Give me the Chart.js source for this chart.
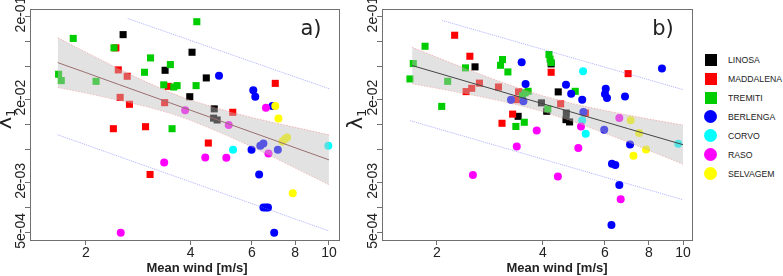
<!DOCTYPE html>
<html lang="en">
<head>
<meta charset="UTF-8">
<title>Lambda 1 vs mean wind</title>
<style>
    body {
        margin: 0;
        background: #fff;
        font-family: 'Liberation Sans', Arial, sans-serif;
    }
    .fig {
        position: relative;
        width: 783px;
        height: 276px;
        overflow: hidden;
    }
    #chartA { position: absolute; left: 0; top: 0; }
    #chartB { position: absolute; left: 345px; top: 0; }
    .legend {
        position: absolute;
        left: 704px;
        top: 50px;
        font-size: 8.7px;
        color: #222;
    }
    .legend .item {
        height: 19px;
        display: flex;
        align-items: center;
        white-space: nowrap;
    }
    .legend .mark {
        width: 13px;
        height: 13px;
        margin-right: 11px;
    }
    .legend .mark.sq {
        width: 12px;
        height: 12px;
        margin: 0 11px 0 1px;
    }
    .legend .mark.dot { border-radius: 50%; }
</style>
</head>
<body>
<div class="fig">
    <canvas id="chartA" width="345" height="276"></canvas>
    <canvas id="chartB" width="355" height="276"></canvas>
    <div class="legend" id="legend"></div>
</div>

<script src="https://cdn.jsdelivr.net/npm/chart.js"></script>
<script>
// ---- species / legend ----
const SPECIES = ['LINOSA', 'MADDALENA', 'TREMITI', 'BERLENGA', 'CORVO', 'RASO', 'SELVAGEM'];
const COLORS  = ['#000000', '#ff0000', '#00cd00', '#0000ff', '#00ffff', '#ff00ff', '#ffff00'];
const SHAPES  = ['rect', 'rect', 'rect', 'circle', 'circle', 'circle', 'circle'];

// ---- axes ----
const X_TICKS = [2, 4, 6, 8, 10];
const Y_TICKS = [0.2, 0.1, 0.05, 0.02, 0.01, 0.005, 0.002, 0.001, 0.0005];
const Y_LABEL_VALUES = [0.2, 0.02, 0.002, 0.0005];
const Y_LABELS = ['2e-01', '2e-02', '2e-03', '5e-04'];

// ---- panel a) : mean wind [m/s] vs lambda_1 ----
const A_LINOSA_WIND      = [2.56, 4.04, 3.38, 4.44, 3.98, 4.68, 4.66, 4.77];
const A_LINOSA_LAMBDA    = [0.121, 0.0743, 0.0451, 0.0365, 0.0217, 0.0155, 0.0120, 0.0114];
const A_MADDALENA_WIND   = [2.44, 2.48, 2.63, 3.45, 2.51, 2.67, 3.37, 7.01, 5.29, 2.40, 2.97, 4.50, 3.06];
const A_MADDALENA_LAMBDA = [0.0839, 0.0456, 0.0382, 0.0289, 0.0213, 0.0176, 0.0184, 0.0314, 0.0141, 0.00895, 0.00946, 0.00602, 0.00252];
const A_TREMITI_WIND     = [4.17, 1.84, 2.41, 3.07, 3.50, 2.95, 1.67, 1.70, 2.14, 3.35, 3.58, 3.66, 4.15, 3.54];
const A_TREMITI_LAMBDA   = [0.173, 0.109, 0.0839, 0.0635, 0.0528, 0.0427, 0.0404, 0.0339, 0.0332, 0.0301, 0.0284, 0.0295, 0.0295, 0.00895];
const A_BERLENGA_WIND    = [4.83, 6.06, 6.14, 6.88, 5.99, 6.35, 6.48, 7.13, 6.30, 6.48, 6.59, 6.68, 6.96];
const A_BERLENGA_LAMBDA  = [0.0389, 0.0259, 0.0217, 0.0168, 0.0050, 0.00558, 0.00595, 0.0050, 0.00252, 0.00101, 0.00101, 0.00101, 0.000504];
const A_CORVO_WIND       = [5.30, 9.96];
const A_CORVO_LAMBDA     = [0.0050, 0.00558];
const A_RASO_WIND        = [3.86, 6.59, 5.15, 6.70, 4.41, 5.07, 3.36, 2.52];
const A_RASO_LAMBDA      = [0.0149, 0.0160, 0.0099, 0.00451, 0.00403, 0.0040, 0.00351, 0.000504];
const A_SELVAGEM_WIND    = [7.01, 7.16, 7.35, 7.48, 7.58, 7.87];
const A_SELVAGEM_LAMBDA  = [0.0168, 0.0119, 0.0063, 0.00673, 0.00703, 0.0015];

const A_FIT_WIND = [1.66, 2, 2.5, 3, 3.5, 4, 5, 6, 7, 8, 10];
const A_FIT      = [0.0558, 0.0423, 0.0302, 0.0230, 0.01824, 0.01493, 0.01069, 0.00813, 0.00646, 0.00528, 0.00378];
const A_BAND_UP  = [0.1114, 0.0745, 0.0465, 0.0323, 0.0243, 0.0197, 0.0149, 0.0122, 0.0105, 0.0093, 0.00755];
const A_BAND_LO  = [0.0280, 0.0240, 0.0196, 0.0164, 0.0137, 0.0113, 0.00767, 0.00543, 0.00398, 0.00301, 0.0019];
const A_PRED_UP_WIND = [2.64, 10];
const A_PRED_UP      = [0.189, 0.0271];
const A_PRED_LO_WIND = [1.66, 10];
const A_PRED_LO      = [0.00757, 0.000528];

// ---- panel b) ----
const B_LINOSA_WIND      = [2.565, 4.22, 4.42, 3.96, 4.10, 3.40, 4.66, 4.65, 4.76];
const B_LINOSA_LAMBDA    = [0.0496, 0.0538, 0.0248, 0.0183, 0.0145, 0.0126, 0.0138, 0.0115, 0.0108];
const B_MADDALENA_WIND   = [2.245, 2.48, 2.42, 2.51, 2.64, 2.99, 3.41, 3.37, 3.28, 3.06, 4.22, 4.49, 6.98, 5.28];
const B_MADDALENA_LAMBDA = [0.119, 0.0665, 0.0250, 0.0274, 0.0316, 0.0284, 0.0248, 0.020, 0.0134, 0.0104, 0.0427, 0.0178, 0.0411, 0.0138];
const B_TREMITI_WIND     = [1.85, 1.713, 1.676, 2.145, 2.063, 2.41, 3.07, 3.03, 3.18, 4.16, 4.19, 4.22, 3.56, 3.63, 3.50, 4.94, 4.13, 3.35, 3.54];
const B_TREMITI_LAMBDA   = [0.0877, 0.0543, 0.0355, 0.0332, 0.0166, 0.0482, 0.0607, 0.0518, 0.0431, 0.0697, 0.0615, 0.0559, 0.0241, 0.0252, 0.0223, 0.0252, 0.0155, 0.00953, 0.0107];
const B_BERLENGA_WIND    = [3.48, 3.57, 3.245, 3.52, 4.65, 4.81, 5.17, 5.21, 6.03, 6.00, 6.08, 6.84, 8.71, 5.97, 7.07, 6.28, 6.42, 6.59, 6.26];
const B_BERLENGA_LAMBDA  = [0.0562, 0.0309, 0.020, 0.0191, 0.0303, 0.0236, 0.020, 0.0142, 0.0271, 0.0234, 0.0210, 0.0219, 0.0473, 0.0087, 0.00579, 0.00339, 0.00327, 0.00189, 0.000624];
const B_CORVO_WIND       = [5.20, 5.17, 5.29, 9.69];
const B_CORVO_LAMBDA     = [0.0438, 0.0113, 0.00778, 0.0059];
const B_RASO_WIND        = [6.59, 3.84, 5.13, 3.37, 5.04, 2.53, 4.41, 6.65];
const B_RASO_LAMBDA      = [0.0120, 0.00853, 0.00953, 0.00547, 0.00524, 0.00249, 0.00238, 0.00127];
const B_SELVAGEM_WIND    = [7.10, 7.50, 7.85, 7.23];
const B_SELVAGEM_LAMBDA  = [0.0113, 0.00794, 0.00503, 0.00422];

const B_FIT_WIND = [1.7, 2, 2.5, 3, 3.5, 4, 5, 6, 7, 8, 10];
const B_FIT      = [0.0514, 0.0421, 0.0319, 0.0255, 0.0210, 0.01786, 0.01355, 0.01081, 0.00893, 0.00757, 0.00575];
const B_BAND_UP  = [0.0853, 0.0646, 0.0445, 0.0333, 0.0265, 0.0222, 0.0174, 0.0148, 0.0130, 0.0117, 0.0099];
const B_BAND_LO  = [0.0310, 0.0274, 0.0229, 0.0195, 0.0167, 0.0144, 0.0105, 0.0079, 0.00615, 0.0049, 0.00335];
const B_PRED_UP_WIND = [2.07, 10];
const B_PRED_UP      = [0.179, 0.0264];
const B_PRED_LO_WIND = [1.68, 10];
const B_PRED_LO      = [0.01117, 0.00125];

const FONT = "'Liberation Sans', Arial, sans-serif";

function pts(xs, ys) {
    return xs.map((x, i) => ({ x: x, y: ys[i] }));
}

// box, rotated y labels, titles and panel tag
const panelText = {
    id: 'panelText',
    afterDraw(chart, args, o) {
        const { ctx, chartArea: a, scales: { y } } = chart;
        ctx.save();
        ctx.strokeStyle = '#707070';
        ctx.lineWidth = 1;
        ctx.strokeRect(Math.round(a.left) + 0.5, Math.round(a.top) + 0.5,
            Math.round(a.right - a.left) - 1, Math.round(a.bottom - a.top));

        ctx.fillStyle = '#222';
        ctx.font = '14px ' + FONT;
        ctx.textAlign = 'center';
        ctx.textBaseline = 'middle';
        Y_LABEL_VALUES.forEach((v, i) => {
            const py = y.getPixelForValue(v);
            ctx.save();
            ctx.translate(a.left - 9, py - 2);
            ctx.rotate(-Math.PI / 2);
            ctx.fillText(Y_LABELS[i], 0, 0);
            ctx.restore();
        });

        // lambda_1
        ctx.save();
        ctx.translate(o.lamX, 119);
        ctx.rotate(-Math.PI / 2);
        ctx.textAlign = 'left';
        ctx.font = '21px DejaVu Sans, sans-serif';
        const wl = ctx.measureText('λ').width;
        ctx.font = '13px DejaVu Sans, sans-serif';
        const w1 = ctx.measureText('1').width;
        const x0 = -(wl + w1) / 2;
        ctx.font = '21px DejaVu Sans, sans-serif';
        ctx.fillText('λ', x0, 0);
        ctx.font = '13px DejaVu Sans, sans-serif';
        ctx.fillText('1', x0 + wl, 6);
        ctx.restore();

        ctx.font = 'bold 13px ' + FONT;
        ctx.fillText('Mean wind [m/s]', o.titleX, 268);

        ctx.font = '21px DejaVu Sans, sans-serif';
        ctx.fillStyle = '#222';
        ctx.fillText(o.tag, o.tagX, 30);
        ctx.restore();
    }
};

function makePanel(id, o) {
    const datasets = [
        { data: pts(o.fitX, o.fit), borderColor: o.fitColor, borderWidth: 1, pointRadius: 0, fill: false },
        { data: pts(o.fitX, o.bandUp), borderColor: 'rgba(255,90,90,0.5)', borderWidth: 0.8, borderDash: [1.5, 1.5],
          pointRadius: 0, fill: '+1', backgroundColor: 'rgba(190,190,190,0.45)' },
        { data: pts(o.fitX, o.bandLo), borderColor: 'rgba(255,90,90,0.5)', borderWidth: 0.8, borderDash: [1.5, 1.5],
          pointRadius: 0, fill: false },
        { data: pts(o.predUpX, o.predUp), borderColor: 'rgba(110,110,255,0.7)', borderWidth: 0.8, borderDash: [1, 1],
          pointRadius: 0, fill: false },
        { data: pts(o.predLoX, o.predLo), borderColor: 'rgba(110,110,255,0.7)', borderWidth: 0.8, borderDash: [1, 1],
          pointRadius: 0, fill: false }
    ];
    // later species first so that e.g. green sits over red
    for (let i = SPECIES.length - 1; i >= 0; i--) {
        datasets.push({
            label: SPECIES[i],
            data: pts(o.wind[i], o.lambda[i]),
            showLine: false,
            pointStyle: SHAPES[i],
            pointRadius: SHAPES[i] === 'rect' ? 5 : 4,
            pointBackgroundColor: COLORS[i],
            pointBorderWidth: 0,
            pointBorderColor: COLORS[i]
        });
    }

    new Chart(document.getElementById(id), {
        type: 'line',
        data: { datasets: datasets },
        options: {
            responsive: false,
            animation: false,
            events: [],
            layout: { padding: { top: 9, right: o.padRight, left: 0, bottom: 0 } },
            plugins: {
                legend: { display: false },
                tooltip: { enabled: false },
                panelText: o.text
            },
            scales: {
                x: {
                    type: 'logarithmic',
                    min: o.xMin,
                    max: o.xMax,
                    afterBuildTicks: s => { s.ticks = X_TICKS.map(v => ({ value: v })); },
                    afterFit: s => { s.height = 36; },
                    grid: { drawOnChartArea: false, tickLength: 5, color: '#707070' },
                    border: { display: false },
                    ticks: {
                        callback: v => String(v),
                        font: { size: 14, family: FONT },
                        color: '#222',
                        padding: 0,
                        maxRotation: 0,
                        autoSkip: false
                    }
                },
                y: {
                    type: 'logarithmic',
                    min: 0.000411,
                    max: 0.246,
                    afterBuildTicks: s => { s.ticks = Y_TICKS.map(v => ({ value: v })); },
                    afterFit: s => { s.width = o.yWidth; },
                    grid: { drawOnChartArea: false, tickLength: 5, color: '#707070' },
                    border: { display: false },
                    ticks: { display: false }
                }
            }
        },
        plugins: [panelText]
    });
}

makePanel('chartA', {
    xMin: 1.382, xMax: 10.76, yWidth: 30, padRight: 4,
    wind:   [A_LINOSA_WIND, A_MADDALENA_WIND, A_TREMITI_WIND, A_BERLENGA_WIND, A_CORVO_WIND, A_RASO_WIND, A_SELVAGEM_WIND],
    lambda: [A_LINOSA_LAMBDA, A_MADDALENA_LAMBDA, A_TREMITI_LAMBDA, A_BERLENGA_LAMBDA, A_CORVO_LAMBDA, A_RASO_LAMBDA, A_SELVAGEM_LAMBDA],
    fitX: A_FIT_WIND, fit: A_FIT, bandUp: A_BAND_UP, bandLo: A_BAND_LO, fitColor: '#9a6e6e',
    predUpX: A_PRED_UP_WIND, predUp: A_PRED_UP, predLoX: A_PRED_LO_WIND, predLo: A_PRED_LO,
    text: { tag: 'a)', tagX: 311, titleX: 197, lamX: 6 }
});

makePanel('chartB', {
    xMin: 1.396, xMax: 10.67, yWidth: 37, padRight: 7,
    wind:   [B_LINOSA_WIND, B_MADDALENA_WIND, B_TREMITI_WIND, B_BERLENGA_WIND, B_CORVO_WIND, B_RASO_WIND, B_SELVAGEM_WIND],
    lambda: [B_LINOSA_LAMBDA, B_MADDALENA_LAMBDA, B_TREMITI_LAMBDA, B_BERLENGA_LAMBDA, B_CORVO_LAMBDA, B_RASO_LAMBDA, B_SELVAGEM_LAMBDA],
    fitX: B_FIT_WIND, fit: B_FIT, bandUp: B_BAND_UP, bandLo: B_BAND_LO, fitColor: '#444444',
    predUpX: B_PRED_UP_WIND, predUp: B_PRED_UP, predLoX: B_PRED_LO_WIND, predLo: B_PRED_LO,
    text: { tag: 'b)', tagX: 318, titleX: 212, lamX: 12 }
});

// legend
const legend = document.getElementById('legend');
SPECIES.forEach((name, i) => {
    const item = document.createElement('div');
    item.className = 'item';
    const mark = document.createElement('span');
    mark.className = 'mark ' + (SHAPES[i] === 'rect' ? 'sq' : 'dot');
    mark.style.background = COLORS[i];
    const label = document.createElement('span');
    label.textContent = name;
    item.appendChild(mark);
    item.appendChild(label);
    legend.appendChild(item);
});
</script>
</body>
</html>
